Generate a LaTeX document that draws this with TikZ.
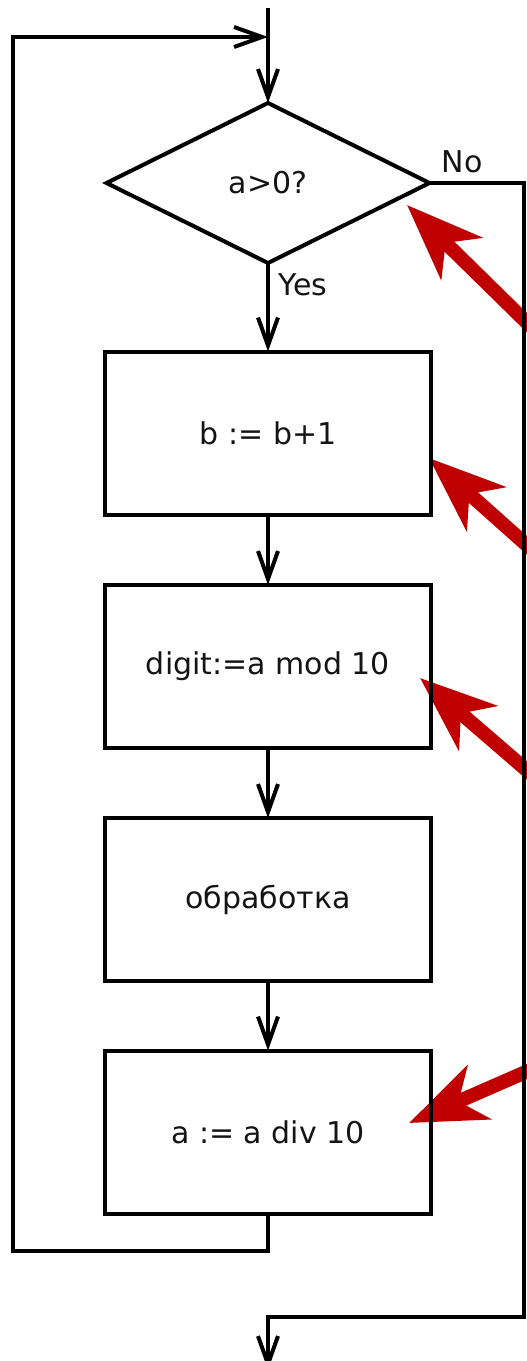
\documentclass[tikz,border=0pt]{standalone}
\usepackage{fontspec}
\setmainfont{DejaVu Sans}
\usetikzlibrary{arrows.meta,shapes.geometric}
\definecolor{marker}{RGB}{192,0,0}
\definecolor{ink}{RGB}{20,20,20}
\tikzset{
  flow/.style={line width=4bp, draw=black},
  flowarrow/.style={flow, -{Straight Barb[length=28bp,width=20bp]}},
  stepbox/.style={draw=black, line width=4bp, minimum width=326bp, minimum height=163bp,
                  inner sep=0pt, outer sep=0pt, text=ink, font=\fontsize{30bp}{36bp}\selectfont},
  decision/.style={diamond, draw=black, line width=4bp, minimum width=323bp, minimum height=160bp,
                   inner sep=0pt, outer sep=0pt, aspect=2, text=ink, font=\fontsize{30bp}{36bp}\selectfont},
  lbl/.style={inner sep=0pt, text=ink, font=\fontsize{30bp}{36bp}\selectfont},
  pointer/.style={draw=marker, line width=14bp, -{Stealth[length=76bp,width=58bp,inset=22bp]}}
}
\begin{document}
\begin{tikzpicture}[x=1bp, y=-1bp]
  \useasboundingbox (0,0) rectangle (527,1361);
  \clip (0,0) rectangle (527,1361);
  \fill[white] (0,0) rectangle (527,1361);

  % red pointers
  \coordinate (p1s) at (567,362);   \coordinate (p1e) at (407,205);
  \coordinate (p2s) at (567,581);   \coordinate (p2e) at (429,458);
  \coordinate (p3s) at (567,805);   \coordinate (p3e) at (420,678);
  \coordinate (p4s) at (567,1054);  \coordinate (p4e) at (409,1123);
  \draw[pointer] (p1s) -- (p1e);
  \draw[pointer] (p2s) -- (p2e);
  \draw[pointer] (p3s) -- (p3e);
  \draw[pointer] (p4s) -- (p4e);

  % flowchart blocks
  \node[decision] (cond) at (268,183) {a>0?};
  \node[stepbox] (b1) at (268,433)    {b := b+1};
  \node[stepbox] (b2) at (268,666.5)  {digit:=a mod 10};
  \node[stepbox] (b3) at (268,899.5)  {обработка};
  \node[stepbox] (b4) at (268,1132)   {a := a div 10};

  % branch labels
  \node[lbl] (no)  at (462,162) {No};
  \node[lbl] (yes) at (303,285) {Yes};

  % helper points for the loop and the exit path
  \coordinate (entry)  at (268,8);
  \coordinate (join)   at (268,37);
  \coordinate (loopTL) at (13,37);
  \coordinate (loopBL) at (13,1251);
  \coordinate (exitR)  at (524,1317);
  \coordinate (exitE)  at (268,1370);

  % main flow
  \draw[flowarrow] (entry) -- (cond.north);
  \draw[flowarrow] (cond.south) -- (b1.north);
  \draw[flowarrow] (b1.south) -- (b2.north);
  \draw[flowarrow] (b2.south) -- (b3.north);
  \draw[flowarrow] (b3.south) -- (b4.north);

  % loop back to the condition
  \draw[flowarrow] (b4.south) |- (loopBL) -- (loopTL) -- (join);

  % exit when the condition fails
  \draw[flowarrow] (cond.east) -| (exitR) -| (exitE);
\end{tikzpicture}
\end{document}
